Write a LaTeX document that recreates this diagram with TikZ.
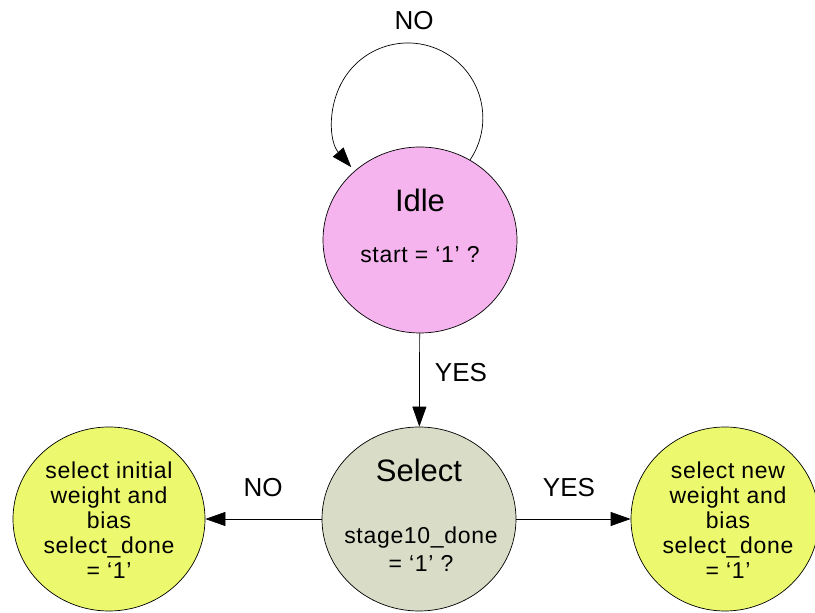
\documentclass[tikz,border=0pt]{standalone}
\usepackage{fontspec}
\setmainfont{Liberation Sans}
\newfontfamily\spaced[LetterSpace=3]{Liberation Sans}
\usetikzlibrary{arrows.meta,shapes.geometric}
\definecolor{idlepink}{RGB}{245,180,237}
\definecolor{selgray}{RGB}{217,221,199}
\definecolor{leafyellow}{RGB}{236,249,110}

\begin{document}
\begin{tikzpicture}[x=1pt,y=1pt,
  state/.style={ellipse, draw=black, line width=0.7pt, inner sep=0pt},
  titletext/.style={font=\fontsize{31}{34}\selectfont, inner sep=0pt},
  condtext/.style={font=\spaced\fontsize{23}{25}\selectfont, align=center, inner sep=0pt},
  edgelabel/.style={font=\fontsize{26}{28}\selectfont, inner sep=0pt},
  flow/.style={draw=black, line width=0.7pt, -{Triangle[length=20pt,width=14pt]}}]
\useasboundingbox (0,0) rectangle (815,613);

% states
\node[state, fill=idlepink, minimum width=194pt, minimum height=186pt] (idle) at (420,373) {};
\node[state, fill=selgray, minimum width=194pt, minimum height=184pt] (sel) at (419,94) {};
\node[state, fill=leafyellow, minimum width=192pt, minimum height=184pt] (init) at (109,94) {};
\node[state, fill=leafyellow, minimum width=188pt, minimum height=184pt] (new) at (725,94) {};

% texts inside the states
\node[titletext] (idletitle) at (420,413) {Idle};
\node[condtext] (idlecond) at (420,358) {start = ‘1’ ?};
\node[titletext] (seltitle) at (419,143) {Select};
\node[condtext, font=\spaced\fontsize{23}{28}\selectfont] (selcond) at (421,64) {stage10\_done\\= ‘1’ ?};
\node[condtext] (inittext) at (109,93) {select initial\\weight and\\bias\\select\_done\\= ‘1’};
\node[condtext] (newtext) at (728,93) {select new\\weight and\\bias\\select\_done\\= ‘1’};

% transitions
\draw[flow] (idle.58) arc[start angle=-34, end angle=221, radius=75pt];
\draw[flow] (idle) -- (sel);
\draw[flow] (sel) -- (init);
\draw[flow] (sel) -- (new);

% transition labels
\node[edgelabel] (lblloop) at (414,592) {NO};
\node[edgelabel] (lblyes) at (461,240) {YES};
\node[edgelabel] (lblno) at (263,125) {NO};
\node[edgelabel] (lblyes2) at (569,125) {YES};
\end{tikzpicture}
\end{document}
